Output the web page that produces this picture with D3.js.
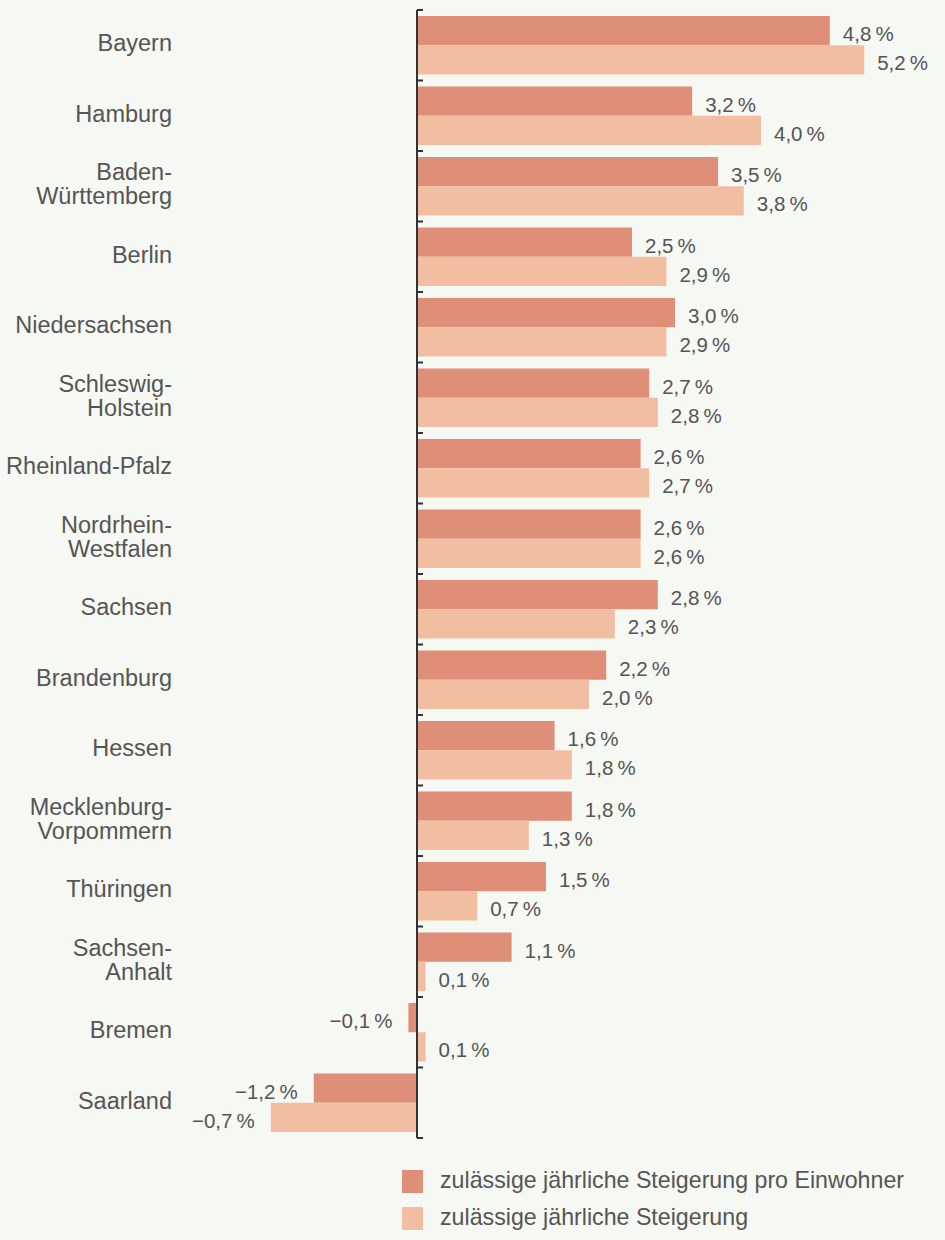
<!DOCTYPE html>
<html>
<head>
<meta charset="utf-8">
<script src="https://cdn.jsdelivr.net/npm/d3@7"></script>
<style>
  html, body { margin: 0; padding: 0; background: #f6f8f4; }
  svg { display: block; font-family: "Liberation Sans", Arial, sans-serif; }
</style>
</head>
<body>
<div id="chart"></div>
<script>
// Bundesländer, top to bottom as printed
const states = ["Bayern", "Hamburg", "Baden-Württemberg", "Berlin", "Niedersachsen",
    "Schleswig-Holstein", "Rheinland-Pfalz", "Nordrhein-Westfalen", "Sachsen",
    "Brandenburg", "Hessen", "Mecklenburg-Vorpommern", "Thüringen", "Sachsen-Anhalt",
    "Bremen", "Saarland"];
const stateLines = [["Bayern"], ["Hamburg"], ["Baden-", "Württemberg"], ["Berlin"],
    ["Niedersachsen"], ["Schleswig-", "Holstein"], ["Rheinland-Pfalz"],
    ["Nordrhein-", "Westfalen"], ["Sachsen"], ["Brandenburg"], ["Hessen"],
    ["Mecklenburg-", "Vorpommern"], ["Thüringen"], ["Sachsen-", "Anhalt"],
    ["Bremen"], ["Saarland"]];

// zulässige jährliche Steigerung pro Einwohner (dark bars)
const perCapita = [4.8, 3.2, 3.5, 2.5, 3.0, 2.7, 2.6, 2.6, 2.8, 2.2, 1.6, 1.8, 1.5, 1.1, -0.1, -1.2];
// zulässige jährliche Steigerung (light bars) - Saarland bar is drawn longer than its label
const total = [5.2, 4.0, 3.8, 2.9, 2.9, 2.8, 2.7, 2.6, 2.3, 2.0, 1.8, 1.3, 0.7, 0.1, 0.1, -1.7];

// labels as printed in the source
const perCapitaLabels = ["4,8\u2009%", "3,2\u2009%", "3,5\u2009%", "2,5\u2009%", "3,0\u2009%",
    "2,7\u2009%", "2,6\u2009%", "2,6\u2009%", "2,8\u2009%", "2,2\u2009%", "1,6\u2009%",
    "1,8\u2009%", "1,5\u2009%", "1,1\u2009%", "\u22120,1\u2009%", "\u22121,2\u2009%"];
const totalLabels = ["5,2\u2009%", "4,0\u2009%", "3,8\u2009%", "2,9\u2009%", "2,9\u2009%",
    "2,8\u2009%", "2,7\u2009%", "2,6\u2009%", "2,3\u2009%", "2,0\u2009%", "1,8\u2009%",
    "1,3\u2009%", "0,7\u2009%", "0,1\u2009%", "0,1\u2009%", "\u22120,7\u2009%"];

const legendLabels = ["zulässige jährliche Steigerung pro Einwohner", "zulässige jährliche Steigerung"];
const colors = ["#df8f78", "#f2bea2"];

const width = 945, height = 1240;
const axisX = 417, perPct = 86;
const yTop = 10, yBottom = 1138;

const svg = d3.select("#chart").append("svg")
    .attr("width", width)
    .attr("height", height);

svg.append("rect").attr("width", width).attr("height", height).attr("fill", "#f6f8f4");

const x = d3.scaleLinear()
    .domain([-2, 5.5])
    .range([axisX - 2 * perPct, axisX + 5.5 * perPct]);

const y = d3.scaleBand()
    .domain(states)
    .range([yTop, yBottom])
    .paddingInner(0.17)
    .paddingOuter(0.085);

const step = y.step();
const barH = y.bandwidth() / 2;

const rows = states.map((s, i) => ({
    state: s, lines: stateLines[i],
    values: [perCapita[i], total[i]],
    labels: [perCapitaLabels[i], totalLabels[i]]
}));

const row = svg.selectAll(".row")
    .data(rows)
    .enter()
    .append("g")
    .attr("class", "row");

// bars and value labels
row.each(function (d) {
    const g = d3.select(this);
    d.values.forEach((v, k) => {
        const y0 = y(d.state) + k * barH;
        g.append("rect")
            .attr("x", Math.min(x(0), x(v)))
            .attr("y", y0)
            .attr("width", Math.abs(x(v) - x(0)))
            .attr("height", barH)
            .attr("fill", colors[k]);

        g.append("text")
            .attr("x", v >= 0 ? x(v) + 13 : x(v) - 16)
            .attr("y", y0 + barH / 2 + 5)
            .attr("dominant-baseline", "middle")
            .attr("text-anchor", v >= 0 ? "start" : "end")
            .attr("font-size", 20.5)
            .attr("fill", "#555")
            .text(d.labels[k]);
    });
});

// state names
row.append("text")
    .attr("text-anchor", "end")
    .attr("font-size", 23.5)
    .attr("fill", "#555")
    .each(function (d) {
        const cy = y(d.state) + y.bandwidth() / 2;
        const lh = 24;
        const y0 = cy - (d.lines.length - 1) * lh / 2;
        d3.select(this).selectAll("tspan")
            .data(d.lines)
            .enter()
            .append("tspan")
            .attr("x", 172)
            .attr("y", (t, j) => y0 + j * lh)
            .attr("dominant-baseline", "middle")
            .text(t => t);
    });

// axis with ticks at row boundaries
const tickYs = states.map(s => y(s) - step * y.paddingInner() / 2).concat([yBottom]);
svg.append("line")
    .attr("x1", x(0)).attr("x2", x(0))
    .attr("y1", yTop).attr("y2", yBottom)
    .attr("stroke", "#333")
    .attr("stroke-width", 2);
svg.selectAll(".tick")
    .data(tickYs)
    .enter()
    .append("line")
    .attr("class", "tick")
    .attr("x1", x(0)).attr("x2", x(0) + 6)
    .attr("y1", d => d).attr("y2", d => d)
    .attr("stroke", "#333")
    .attr("stroke-width", 2);

// legend
const legend = svg.selectAll(".legend")
    .data(legendLabels)
    .enter()
    .append("g")
    .attr("class", "legend")
    .attr("transform", (d, i) => `translate(402, ${1170 + i * 37})`);

legend.append("rect")
    .attr("width", 21)
    .attr("height", 23)
    .attr("fill", (d, i) => colors[i]);

legend.append("text")
    .attr("x", 38)
    .attr("y", 12)
    .attr("dominant-baseline", "middle")
    .attr("font-size", 23.2)
    .attr("fill", "#555")
    .text(d => d);
</script>
</body>
</html>
